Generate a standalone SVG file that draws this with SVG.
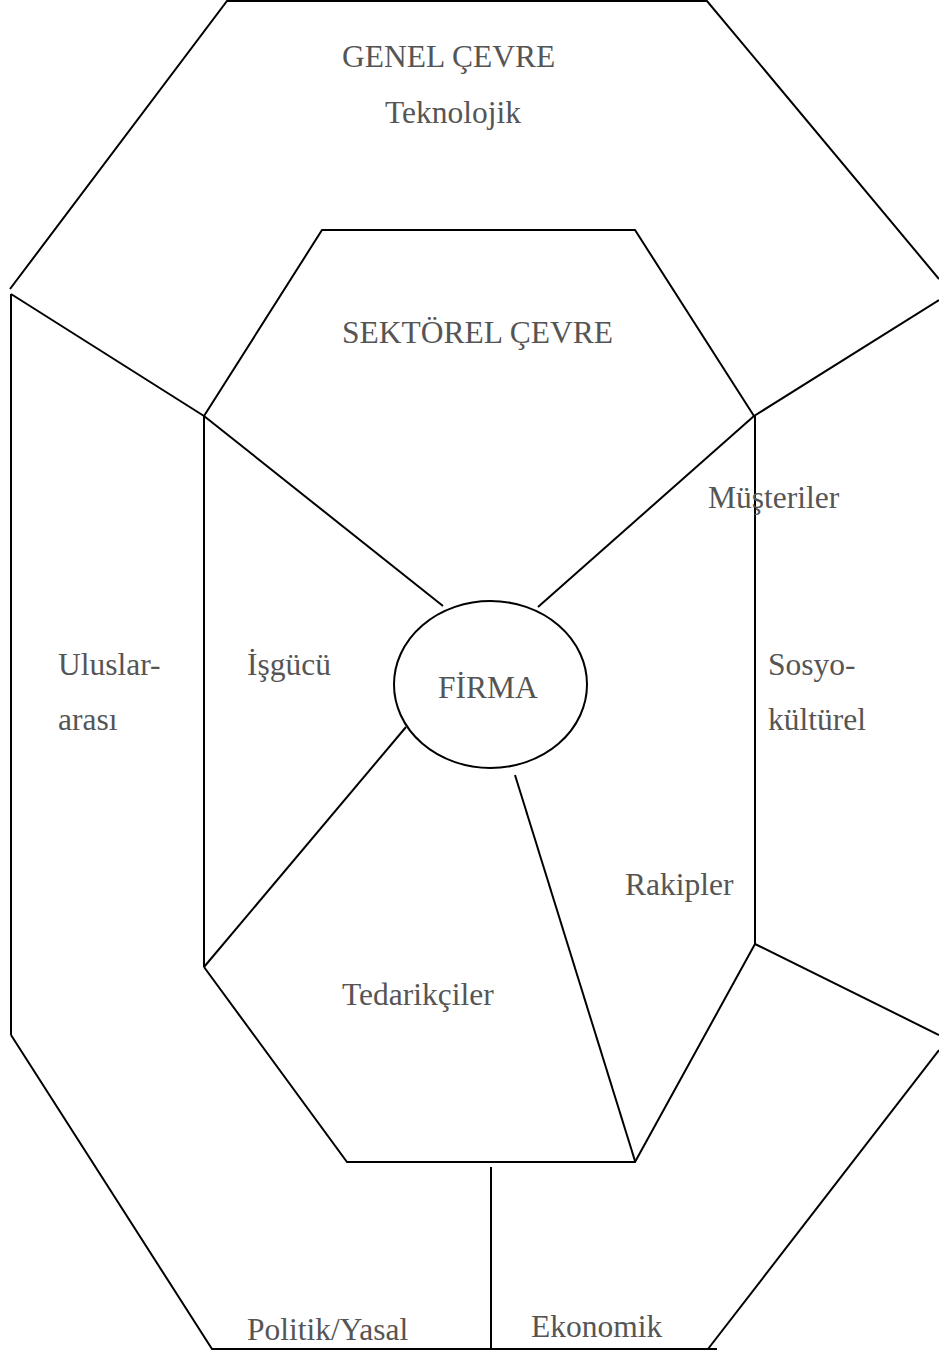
<svg xmlns="http://www.w3.org/2000/svg" width="939" height="1350" viewBox="0 0 939 1350">
<style>
.ln{stroke:#000;stroke-width:2;fill:none;stroke-linecap:butt}
.t{font-family:"Liberation Serif","Times New Roman",serif;font-size:31.5px;fill:#555}
</style>
<rect width="939" height="1350" fill="#fff"/>
<g id="connectors">
<!-- outer boundary -->
<polyline class="ln" points="10,289 227,1 707,1 939,279"/>
<line class="ln" x1="11" y1="294" x2="11" y2="1035"/>
<polyline class="ln" points="11,1035 212,1349 717,1349"/>
<line class="ln" x1="939" y1="1050" x2="708" y2="1349"/>
<!-- inner boundary -->
<polyline class="ln" points="204,416 322,230 635,230 754,416"/>
<line class="ln" x1="204" y1="416" x2="204" y2="967"/>
<polyline class="ln" points="204,967 347,1162 635,1162 755,944 755,416"/>
<!-- radial lines -->
<line class="ln" x1="11" y1="294" x2="204" y2="416"/>
<line class="ln" x1="204" y1="416" x2="443" y2="606"/>
<line class="ln" x1="939" y1="300" x2="754" y2="416"/>
<line class="ln" x1="754" y1="416" x2="538" y2="607"/>
<line class="ln" x1="406" y1="727" x2="204" y2="967"/>
<line class="ln" x1="515" y1="775" x2="635" y2="1161"/>
<line class="ln" x1="755" y1="944" x2="939" y2="1035"/>
<line class="ln" x1="491" y1="1167" x2="491" y2="1349"/>
</g>
<g id="firma">
<ellipse class="ln" cx="490.5" cy="684.5" rx="96.5" ry="83.5"/>
<text class="t" x="438" y="698">FİRMA</text>
</g>
<g id="genel-cevre">
<text class="t" x="342" y="67">GENEL ÇEVRE</text>
<text class="t" x="385" y="123">Teknolojik</text>
</g>
<g id="sektorel-cevre"><text class="t" x="342" y="343">SEKTÖREL ÇEVRE</text></g>
<g id="musteriler"><text class="t" x="708" y="508">Müşteriler</text></g>
<g id="isgucu"><text class="t" x="247" y="675">İşgücü</text></g>
<g id="uluslararasi"><text class="t" x="58" y="675">Uluslar-</text><text class="t" x="58" y="730">arası</text></g>
<g id="sosyokulturel"><text class="t" x="768" y="675">Sosyo-</text><text class="t" x="768" y="730">kültürel</text></g>
<g id="rakipler"><text class="t" x="625" y="895">Rakipler</text></g>
<g id="tedarikciler"><text class="t" x="342" y="1005">Tedarikçiler</text></g>
<g id="politik"><text class="t" x="247" y="1340">Politik/Yasal</text></g>
<g id="ekonomik"><text class="t" x="531" y="1337">Ekonomik</text></g>
</svg>
